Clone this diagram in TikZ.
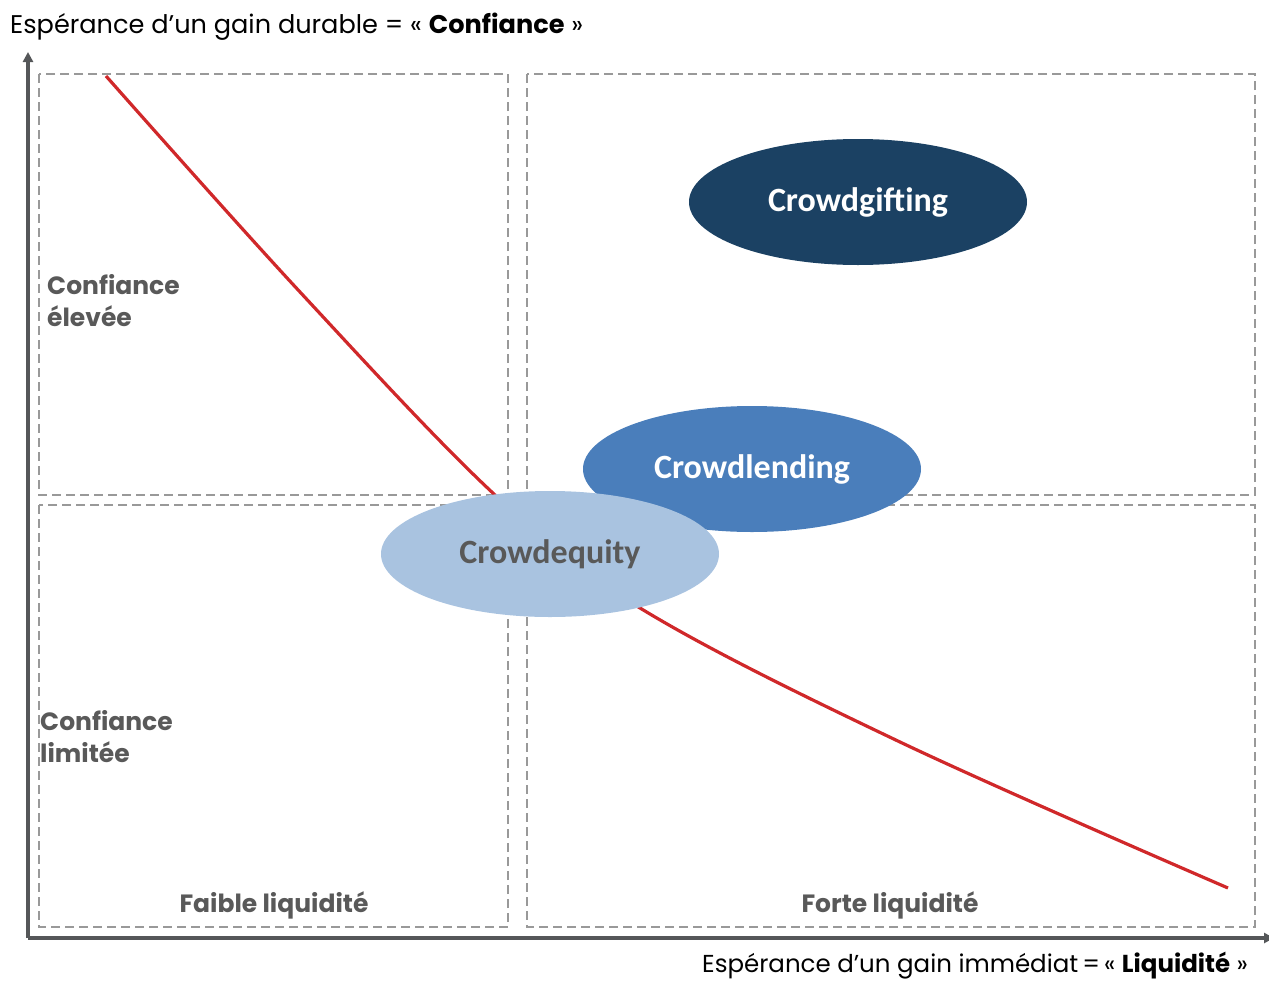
\documentclass[tikz,border=0pt]{standalone}
\usepackage{fontspec}
\setmainfont{Poppins}
\newfontfamily\calibri{Carlito}
\usetikzlibrary{shapes.geometric,arrows.meta}
\definecolor{axisgray}{HTML}{555759}
\definecolor{boxgray}{HTML}{999999}
\definecolor{labelgray}{HTML}{595959}
\definecolor{curvered}{HTML}{D0282A}
\definecolor{giftblue}{HTML}{1B4163}
\definecolor{lendblue}{HTML}{4A7EBB}
\definecolor{equityblue}{HTML}{A9C3E0}
\tikzset{
    axis/.style={draw=axisgray,line width=3.8pt,-{Triangle[length=10pt,width=10pt]}},
    quadrant/.style={draw=boxgray,line width=2.4pt,dash pattern=on 9pt off 5pt},
    bubble/.style={ellipse,minimum width=338pt,minimum height=126pt,inner sep=0pt,
        font=\calibri\bfseries\fontsize{34}{40}\selectfont},
    zonelabel/.style={text=labelgray,font=\bfseries\fontsize{25}{32}\selectfont,inner sep=0pt},
    axislabel/.style={font=\fontsize{25.6}{30}\selectfont,inner sep=0pt}
}

\begin{document}
\begin{tikzpicture}[x=1pt,y=-1pt]
\useasboundingbox (0,0) rectangle (1269,980);
\clip (0,0) rectangle (1269,980);

% quadrants
\draw[quadrant] (39,74) rectangle (508,495);
\draw[quadrant] (527,74) rectangle (1255,495);
\draw[quadrant] (39,505) rectangle (508,927);
\draw[quadrant] (527,505) rectangle (1255,927);

% axes
\coordinate (o) at (28,938);
\coordinate (ytip) at (28,52);
\coordinate (xtip) at (1274,938);
\draw[axis] (o) -- (ytip);
\draw[axis] (o) -- (xtip);

% trade-off curve
\draw[curvered,line width=3.2pt] plot[smooth,tension=0.6] coordinates
    {(106,76) (300,292) (495,495) (640,608) (900,742) (1228,888)};

\node[bubble,fill=giftblue,text=white] (gift) at (858,202) {Crowdgifting};
\node[bubble,fill=lendblue,text=white] (lend) at (752,469) {Crowdlending};
\node[bubble,fill=equityblue,text=labelgray] (equity) at (550,554) {Crowdequity};

\node[zonelabel,anchor=north west,align=left] (high) at (47,274) {Confiance\\élevée};
\node[zonelabel,anchor=north west,align=left] (low) at (40,710) {Confiance\\limitée};
\node[zonelabel] (weak) at (274,905) {Faible liquidité};
\node[zonelabel] (strong) at (890,905) {Forte liquidité};

\node[axislabel,anchor=base west] (ylabel) at (10,33) {Espérance d’un gain durable = « \textbf{Confiance} »};
\node[axislabel,font=\fontsize{24.5}{30}\selectfont,anchor=base west] (xlabel) at (702,972)
    {Espérance d’un gain immédiat\,=\,« \textbf{Liquidité} »};
\end{tikzpicture}
\end{document}
